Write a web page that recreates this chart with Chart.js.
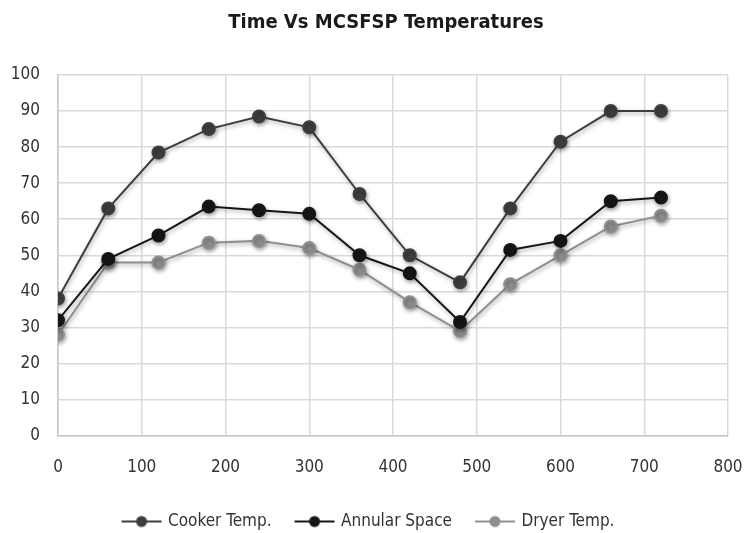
<!DOCTYPE html>
<html>
<head>
<meta charset="utf-8">
<script src="https://cdn.jsdelivr.net/npm/chart.js@4"></script>
<style>
  html,body{margin:0;padding:0;background:#fff;}
  #wrap{width:746px;height:533px;}
</style>
</head>
<body>
<div id="wrap"><canvas id="c" width="746" height="533"></canvas></div>
<script>
const timeMinutes = [0, 60, 120, 180, 240, 300, 360, 420, 480, 540, 600, 660, 720];
const cookerTemp = [38, 63, 78.5, 85, 88.5, 85.5, 67, 50, 42.5, 63, 81.5, 90, 90];
const annularSpace = [32, 49, 55.5, 63.5, 62.5, 61.5, 50, 45, 31.5, 51.5, 54, 65, 66];
const dryerTemp = [28, 48, 48, 53.5, 54, 52, 46, 37, 29, 42, 50, 58, 61];
const seriesNames = ["Cooker Temp.", "Annular Space", "Dryer Temp."];

const FONT = "'DejaVu Sans Condensed', 'Liberation Sans Narrow', 'Open Sans', sans-serif";

function pts(ys){ return timeMinutes.map((x,i)=>({x:x,y:ys[i]})); }

// legend icon: blank lead-in, then line with a dot in the middle
function legendIcon(color){
  const c = document.createElement('canvas');
  c.width = 60; c.height = 14;
  const g = c.getContext('2d');
  g.strokeStyle = color; g.lineWidth = 2.2;
  g.beginPath(); g.moveTo(18,7); g.lineTo(58,7); g.stroke();
  g.fillStyle = color;
  g.beginPath(); g.arc(38,7,5.5,0,Math.PI*2); g.fill();
  return c;
}

const colors = ["#3e3e3e", "#161616", "#8f8f8f"];

const shadowPlugin = {
  id:'shadow',
  beforeDatasetsDraw(chart){
    const ctx = chart.ctx; ctx.save();
    ctx.shadowColor = 'rgba(0,0,0,0.35)';
    ctx.shadowBlur = 4; ctx.shadowOffsetX = 1; ctx.shadowOffsetY = 2;
  },
  afterDatasetsDraw(chart){ chart.ctx.restore(); }
};

// nudge legend and title boxes to match the reference placement
const nudgePlugin = {
  id:'nudge',
  afterLayout(chart){
    const lg = chart.legend;
    if (lg) { lg.left -= 14; lg.right -= 14; lg.top += 7; lg.bottom += 7; }
    const tb = chart.titleBlock;
    if (tb) { tb.left -= 7; tb.right -= 7; }
  }
};

new Chart(document.getElementById('c'), {
  type: 'line',
  data: {
    datasets: [
      {label: seriesNames[0], data: pts(cookerTemp), borderColor: colors[0], backgroundColor: colors[0], pointBackgroundColor: colors[0], pointBorderColor: colors[0]},
      {label: seriesNames[1], data: pts(annularSpace), borderColor: colors[1], backgroundColor: colors[1], pointBackgroundColor: colors[1], pointBorderColor: colors[1]},
      {label: seriesNames[2], data: pts(dryerTemp), borderColor: colors[2], backgroundColor: colors[2], pointBackgroundColor: colors[2], pointBorderColor: colors[2]}
    ].map(d => Object.assign(d, {borderWidth: 2, pointRadius: 6, pointHoverRadius: 6, tension: 0, fill: false}))
  },
  options: {
    responsive: false,
    animation: false,
    layout: {padding: {left: 4, right: 0, top: 0, bottom: 0}},
    plugins: {
      title: {
        display: true,
        fullSize: false,
        text: 'Time Vs MCSFSP Temperatures',
        color: '#1a1a1a',
        font: {family: FONT, size: 20, weight: 'bold'},
        padding: {top: 11, bottom: 40}
      },
      legend: {
        position: 'bottom',
        labels: {
          color: '#333',
          font: {family: FONT, size: 17},
          usePointStyle: true,
          pointStyleWidth: 52,
          padding: 9,
          generateLabels(chart){
            return chart.data.datasets.map((d,i)=>({
              text: d.label,
              pointStyle: legendIcon(colors[i]),
              fillStyle: colors[i], strokeStyle: colors[i], lineWidth: 0,
              fontColor: '#333',
              hidden: false, datasetIndex: i
            }));
          }
        }
      },
      tooltip: {enabled: false}
    },
    scales: {
      x: {
        type: 'linear',
        min: 0, max: 800,
        ticks: {stepSize: 100, color: '#333', font: {family: FONT, size: 17}, padding: 22},
        grid: {color: '#d9d9d9', lineWidth: 1.5, drawTicks: false},
        border: {color: '#c8c8c8', width: 1.5},
        afterFit(s){ s.paddingRight = 18; s.height -= 3; }
      },
      y: {
        min: 0, max: 100,
        ticks: {stepSize: 10, color: '#333', font: {family: FONT, size: 17}, padding: 18},
        grid: {color: '#d9d9d9', lineWidth: 1.5, drawTicks: false},
        border: {color: '#c8c8c8', width: 1.5},
        afterFit(s){ s.width = 54; }
      }
    }
  },
  plugins: [shadowPlugin, nudgePlugin]
});
</script>
</body>
</html>
